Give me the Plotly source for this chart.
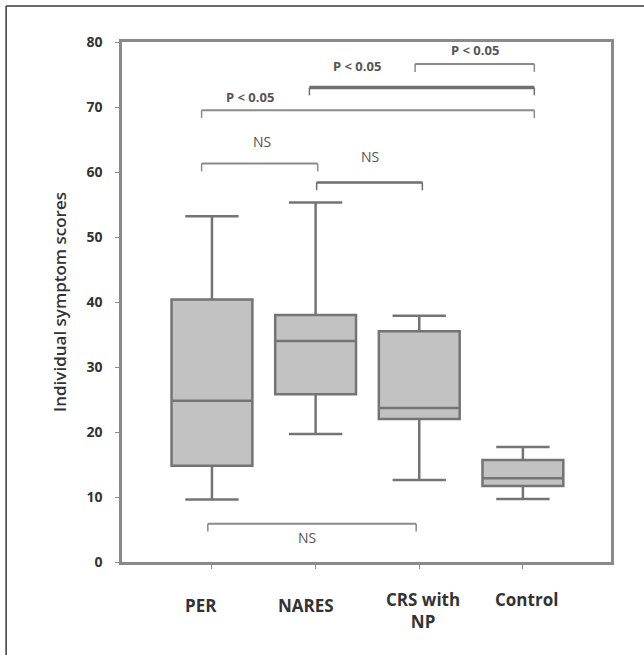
import plotly.graph_objects as go

# ---- data ----
categories = ["PER", "NARES", "CRS with<br>NP", "Control"]
lower_whisker = [9.6, 19.7, 12.6, 9.7]
q1_values = [14.8, 25.8, 22.0, 11.7]
median_values = [24.8, 34.0, 23.7, 12.9]
q3_values = [40.4, 38.0, 35.5, 15.7]
upper_whisker = [53.2, 55.3, 37.9, 17.7]

y_ticks = [0, 10, 20, 30, 40, 50, 60, 70, 80]

# comparison brackets (category-index units on x, score units on y)
bracket_x0 = [-0.10, 1.01, -0.10, 0.94, 1.96, -0.04]
bracket_x1 = [1.02, 2.03, 3.11, 3.11, 3.11, 1.97]
bracket_y = [61.3, 58.4, 69.5, 73.0, 76.6, 5.9]
bracket_label = ["NS", "NS", "P < 0.05", "P < 0.05", "P < 0.05", "NS"]
label_x = [0.48, 1.52, 0.37, 1.40, 2.54, 0.92]
label_y = [64.7, 62.4, 71.6, 76.3, 78.7, 3.7]

y_title = "Individual symptom scores"

# ---- styling ----
FONT = "Open Sans"
TXT = "#333333"
positions = list(range(len(categories)))

fig = go.Figure()
fig.add_trace(go.Box(
    x=positions,
    q1=q1_values, median=median_values, q3=q3_values,
    lowerfence=lower_whisker, upperfence=upper_whisker,
    fillcolor="#c2c2c2",
    line=dict(color="#747474", width=2.5),
    width=0.78,
    whiskerwidth=0.66,
    boxpoints=False,
    hoverinfo="skip",
    showlegend=False,
))

shapes = []
tick_down = 1.2
line_styles = [
    dict(color="#8a8a8a", width=2),
    dict(color="#6e6e6e", width=2.5),
    dict(color="#8a8a8a", width=2),
    dict(color="#707070", width=3.5),
    dict(color="#8a8a8a", width=2),
    dict(color="#8a8a8a", width=2),
]
for i in range(len(bracket_y)):
    st = line_styles[i]
    shapes.append(dict(type="line", xref="x", yref="y",
                       x0=bracket_x0[i], x1=bracket_x1[i],
                       y0=bracket_y[i], y1=bracket_y[i], line=st))
    for xe in (bracket_x0[i], bracket_x1[i]):
        shapes.append(dict(type="line", xref="x", yref="y",
                           x0=xe, x1=xe, y0=bracket_y[i],
                           y1=bracket_y[i] - tick_down,
                           line=dict(color=st["color"], width=1.5)))

# outer border: only top and left edges are visible in the crop
border = dict(color="#3a3a3a", width=1.5)
shapes.append(dict(type="line", xref="paper", yref="paper",
                   x0=-0.237, x1=1.1, y0=1.069, y1=1.069, line=border))
shapes.append(dict(type="line", xref="paper", yref="paper",
                   x0=-0.237, x1=-0.237, y0=1.069, y1=-0.2, line=border))

annotations = []
for i in range(len(bracket_label)):
    bold = bracket_label[i].startswith("P")
    annotations.append(dict(
        x=label_x[i], y=label_y[i], xref="x", yref="y",
        text=("<b>%s</b>" % bracket_label[i]) if bold else bracket_label[i],
        showarrow=False,
        font=dict(family=FONT, size=13 if bold else 14, color="#555555"),
        xanchor="center", yanchor="middle",
    ))

# category labels
label_xshift = [-11, -10, 4, 4]
label_yshift = [-6, -6, 0, 0]
for i, c in enumerate(categories):
    annotations.append(dict(
        x=positions[i], y=0, xref="x", yref="paper",
        text="<b>%s</b>" % c, showarrow=False,
        font=dict(family=FONT, size=17, color=TXT),
        xanchor="center", yanchor="top",
        yshift=-24 + label_yshift[i], xshift=label_xshift[i],
    ))

fig.update_layout(
    width=644, height=655,
    margin=dict(l=122, r=33, t=42, b=93),
    paper_bgcolor="white", plot_bgcolor="white",
    shapes=shapes, annotations=annotations,
    xaxis=dict(
        range=[-0.868, 3.85], tickvals=positions, showticklabels=False,
        ticks="outside", ticklen=4, tickcolor="#8a8a8a",
        showline=True, mirror=True, linecolor="#8a8a8a", linewidth=2.5,
        showgrid=False, zeroline=False,
    ),
    yaxis=dict(
        range=[0, 80], tickvals=y_ticks,
        ticks="outside", ticklen=4, tickcolor="#8a8a8a",
        tickfont=dict(family=FONT, size=14, color=TXT, weight="bold"),
        ticklabelstandoff=10,
        showline=True, mirror=True, linecolor="#8a8a8a", linewidth=2.5,
        showgrid=False, zeroline=False,
        title=dict(text=y_title, font=dict(family=FONT, size=17, color=TXT, weight=600),
                   standoff=16),
    ),
)

fig.write_html(
    "out.html",
    config={"displayModeBar": False},
    post_script="document.body.style.margin='0';document.body.style.overflow='hidden';",
)
